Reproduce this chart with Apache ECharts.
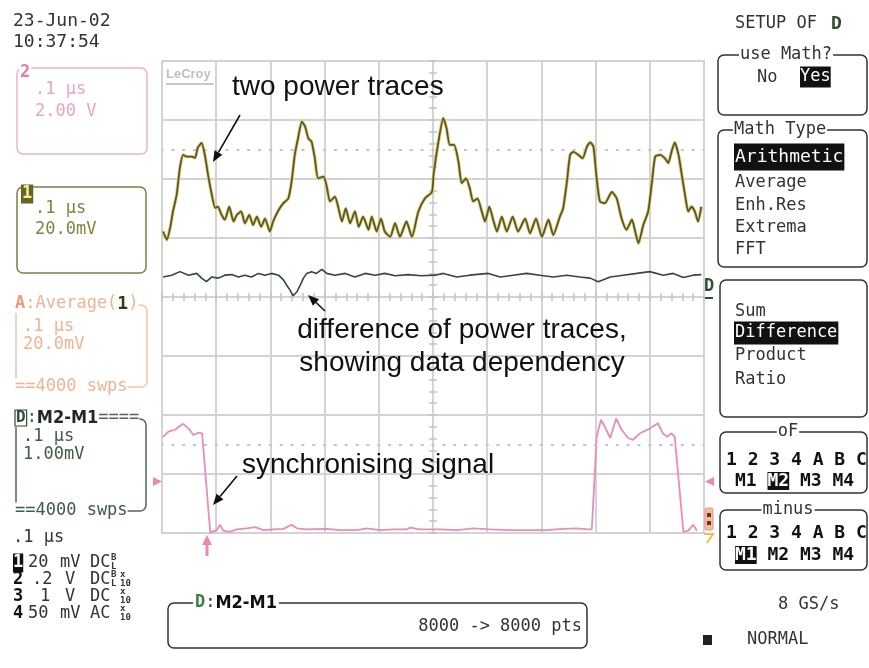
<!DOCTYPE html>
<html>
<head>
<meta charset="utf-8">
<script src="https://cdn.jsdelivr.net/npm/echarts@6/dist/echarts.min.js"></script>
<style>
  html, body { margin: 0; padding: 0; background: #fff; }
  #scope { width: 869px; height: 668px; }
</style>
</head>
<body>
<div id="scope"></div>
<script>
// Time in ns (0.1 µs/div over 10 divisions), amplitude in screen divisions (8 div, 0 = centre).

// M1 / M2 averaged power traces (they overlay each other)
const powerTrace = [
  [2,1.11],[9,0.97],[15,1.17],[20,1.44],[27,1.73],[33,2.19],[39,2.41],[46,2.38],[55,2.38],[61,2.36],
  [66,2.53],[73,2.61],[79,2.41],[85,2.07],[92,1.73],[98,1.51],[103,1.53],[110,1.39],[116,1.31],[124,1.53],
  [132,1.28],[138,1.39],[146,1.45],[153,1.25],[161,1.39],[168,1.22],[175,1.36],[183,1.19],[190,1.33],[199,1.11],
  [205,1.28],[215,1.47],[224,1.59],[233,1.67],[239,1.95],[245,2.41],[251,2.69],[258,2.97],[264,2.89],[270,2.69],
  [276,2.63],[282,2.35],[288,2.01],[298,2.04],[304,1.87],[310,1.62],[319,1.70],[325,1.53],[332,1.28],[339,1.50],
  [347,1.25],[356,1.45],[363,1.19],[371,1.36],[381,1.14],[387,1.36],[396,1.11],[404,1.33],[411,1.11],[421,1.02],
  [430,1.25],[439,1.02],[451,1.28],[461,1.02],[473,1.45],[485,1.67],[498,1.78],[501,2.07],[510,2.63],[519,3.03],
  [525,2.86],[531,2.58],[539,2.58],[547,2.29],[553,1.93],[561,2.01],[568,1.84],[574,1.62],[582,1.67],[590,1.45],
  [596,1.28],[604,1.53],[611,1.31],[618,1.11],[627,1.36],[636,1.11],[647,1.36],[657,1.11],[670,1.33],[679,1.08],
  [690,1.33],[701,1.02],[713,1.31],[722,1.05],[734,1.36],[740,1.50],[747,1.95],[753,2.41],[759,2.46],[768,2.41],
  [776,2.35],[784,2.55],[790,2.62],[796,2.55],[802,2.01],[808,1.62],[817,1.59],[830,1.78],[839,1.67],[848,1.33],
  [857,1.14],[867,1.31],[873,1.11],[879,0.91],[888,1.22],[897,1.45],[904,1.95],[910,2.38],[919,2.41],[928,2.35],
  [934,2.27],[940,2.46],[946,2.62],[953,2.41],[959,2.07],[965,1.73],[971,1.45],[977,1.53],[983,1.45],[989,1.28],
  [995,1.53]
];

// D = M2 - M1
const differenceTrace = [
  [2,0.34],[18,0.37],[33,0.43],[49,0.37],[64,0.40],[73,0.32],[82,0.26],[92,0.34],[104,0.32],[116,0.37],
  [129,0.38],[141,0.34],[153,0.37],[165,0.34],[178,0.40],[190,0.37],[202,0.40],[215,0.37],[224,0.29],[230,0.20],
  [236,0.12],[242,0.02],[249,0.09],[255,0.20],[261,0.32],[267,0.40],[276,0.43],[285,0.40],[295,0.47],[304,0.40],
  [319,0.37],[338,0.40],[356,0.34],[375,0.40],[393,0.37],[411,0.40],[430,0.36],[454,0.38],[479,0.36],[504,0.37],
  [519,0.40],[544,0.34],[568,0.37],[602,0.40],[624,0.34],[648,0.37],[673,0.40],[697,0.37],[722,0.34],[747,0.37],
  [771,0.34],[790,0.32],[805,0.26],[827,0.34],[851,0.37],[876,0.40],[900,0.43],[925,0.37],[943,0.40],[962,0.33],
  [980,0.37],[995,0.38]
];

// Channel 2: synchronising signal
const syncTrace = [
  [2,-2.37],[12,-2.28],[24,-2.25],[39,-2.15],[49,-2.23],[58,-2.34],[67,-2.30],[74,-2.31],[89,-3.99],[101,-3.95],
  [107,-3.86],[113,-3.96],[125,-3.98],[138,-3.94],[156,-3.92],[172,-3.90],[187,-3.95],[205,-3.94],[224,-3.93],[239,-3.86],
  [249,-3.92],[267,-3.94],[304,-3.93],[328,-3.95],[359,-3.95],[378,-3.92],[402,-3.95],[427,-3.94],[451,-3.94],[458,-3.91],
  [476,-3.94],[501,-3.94],[513,-3.94],[544,-3.95],[574,-3.92],[605,-3.94],[642,-3.95],[679,-3.95],[710,-3.95],[740,-3.93],
  [765,-3.92],[787,-3.94],[793,-3.94],[802,-2.37],[810,-2.08],[817,-2.20],[827,-2.39],[838,-2.06],[848,-2.25],[860,-2.39],
  [869,-2.42],[882,-2.31],[900,-2.23],[915,-2.14],[924,-2.31],[932,-2.37],[940,-2.31],[946,-2.37],[962,-3.98],[971,-3.96],
  [980,-3.86],[987,-3.96]
];

// dotted reference levels (div)
const referenceLevels = [2.5, -2.5];

const GRID = '#d3d3d3';
const MONO = '"DejaVu Sans Mono", "Liberation Mono", monospace';
const SANS = '"Liberation Sans", Arial, sans-serif';

function txt(x, y, s, st) {
  return { type: 'text', x: x, y: y, z: 20, silent: true,
    style: Object.assign({ text: s, fontFamily: MONO, fontSize: 17, fill: '#333',
      align: 'left', verticalAlign: 'middle' }, st || {}) };
}
function box(x, y, w, h, stroke, lw) {
  return { type: 'rect', z: 10, silent: true, shape: { x: x, y: y, width: w, height: h, r: 6 },
    style: { fill: 'none', stroke: stroke, lineWidth: lw || 1.5 } };
}
function arrow(x1, y1, x2, y2) {
  const a = Math.atan2(y2 - y1, x2 - x1), L = 11, W = 4.5;
  const bx = x2 - L * Math.cos(a), by = y2 - L * Math.sin(a);
  return [
    { type: 'line', z: 30, silent: true, shape: { x1: x1, y1: y1, x2: bx, y2: by },
      style: { stroke: '#111', lineWidth: 1.6 } },
    { type: 'polygon', z: 30, silent: true, shape: { points: [[x2, y2],
      [bx + W * Math.sin(a), by - W * Math.cos(a)], [bx - W * Math.sin(a), by + W * Math.cos(a)]] },
      style: { fill: '#111' } }
  ];
}
function stacked(x, y, top, bottom, color) {
  return [txt(x, y - 5, top, { fontSize: 9, fill: color || '#333', fontWeight: 'bold' }),
          txt(x, y + 4, bottom, { fontSize: 9, fill: color || '#333', fontWeight: 'bold' })];
}

const chart = echarts.init(document.getElementById('scope'));

const centreAxisBase = {
  type: 'value', axisLabel: { show: false },
  axisLine: { show: true, onZero: true, lineStyle: { color: GRID, width: 2 } },
  axisTick: { show: true, inside: true, length: 4, lineStyle: { color: '#c4c4c4', width: 1.5 } },
  minorTick: { show: true, splitNumber: 5, length: 4, lineStyle: { color: '#c4c4c4', width: 1.5 } },
  minorSplitLine: { show: false }
};

const elements = [
  // date / time
  txt(13, 21, '23-Jun-02', { fontSize: 18 }), txt(13, 42, '10:37:54', { fontSize: 18 }),

  // channel 2 descriptor
  box(17, 68, 130, 86, '#eeb2c8'),
  txt(19, 73, '2', { fill: '#e27fa9', fontWeight: 'bold', backgroundColor: '#fff', padding: [0, 1] }),
  txt(35, 90, '.1 µs', { fill: '#eaa4c2' }), txt(35, 112, '2.00 V', { fill: '#eaa4c2' }),

  // channel 1 descriptor
  box(17, 187, 129, 86, '#807e42'),
  txt(21, 194, '1', { fill: '#f2eda6', fontWeight: 'bold', backgroundColor: '#66641f', padding: [1, 1] }),
  txt(35, 209, '.1 µs', { fill: '#84823e' }), txt(35, 230, '20.0mV', { fill: '#84823e' }),

  // math A descriptor
  box(16, 305, 131, 82, '#f3c3ab'),
  { type: 'text', x: 15, y: 304, z: 20, silent: true, style: {
      text: '{a|A}{b|:Average(}{c|1}{b|)}', verticalAlign: 'middle', backgroundColor: '#fff',
      rich: { a: { fontFamily: MONO, fontSize: 17, fontWeight: 'bold', fill: '#ec9a7a' },
              b: { fontFamily: MONO, fontSize: 17, fill: '#f0b392' },
              c: { fontFamily: MONO, fontSize: 18, fontWeight: 'bold', fill: '#3c3a0c' } } } },
  txt(23, 327, '.1 µs', { fill: '#f0b392' }), txt(23, 345, '20.0mV', { fill: '#f0b392' }),
  txt(15, 387, '==4000 swps', { fill: '#f0b392', backgroundColor: '#fff' }),

  // math D descriptor
  box(16, 419, 130, 92, '#4d6b51'),
  { type: 'text', x: 15, y: 418, z: 20, silent: true, style: {
      text: '{d|D}{b|:}{m|M2-M1}{e|====}', verticalAlign: 'middle', backgroundColor: '#fff',
      rich: { d: { fontFamily: MONO, fontSize: 16, fontWeight: 'bold', fill: '#2e4d33',
                   borderColor: '#2e4d33', borderWidth: 1.2, padding: [0, 1] },
              b: { fontFamily: MONO, fontSize: 17, fill: '#3e5c43' },
              m: { fontFamily: '"DejaVu Sans Condensed", "DejaVu Sans", sans-serif', fontSize: 18, fontWeight: 'bold', fill: '#1d2a1f' },
              e: { fontFamily: MONO, fontSize: 17, fill: '#4d6b51' } } } },
  txt(23, 437, '.1 µs', { fill: '#3e5c43' }), txt(23, 455, '1.00mV', { fill: '#3e5c43' }),
  txt(15, 511, '==4000 swps', { fill: '#3e5c43', backgroundColor: '#fff' }),

  // timebase and channel settings
  txt(13, 538, '.1 µs'),
  txt(13, 563, '1', { fill: '#fff', backgroundColor: '#111', fontWeight: 'bold', padding: [1, 0] }),
  txt(28, 563, '20'), txt(60, 563, 'mV'), txt(90, 563, 'DC'),
  ...stacked(111, 563, 'B', 'L'),
  txt(13, 580, '2', { fontWeight: 'bold', fill: '#111' }),
  txt(32, 580, '.2'), txt(65, 580, 'V'), txt(90, 580, 'DC'),
  ...stacked(111, 580, 'B', 'L'), ...stacked(120, 580, 'x', '10'),
  txt(13, 597, '3', { fontWeight: 'bold', fill: '#111' }),
  txt(40, 597, '1'), txt(65, 597, 'V'), txt(90, 597, 'DC'),
  ...stacked(120, 597, 'x', '10'),
  txt(13, 614, '4', { fontWeight: 'bold', fill: '#111' }),
  txt(28, 614, '50'), txt(60, 614, 'mV'), txt(90, 614, 'AC'),
  ...stacked(120, 614, 'x', '10'),

  // right-hand setup menu
  txt(735, 24, 'SETUP OF'),
  txt(831, 24, 'D', { fontWeight: 'bold', fill: '#2d4f32', fontSize: 18 }),

  box(718, 55, 149, 60, '#333'),
  txt(786, 55, 'use Math?', { align: 'center', backgroundColor: '#fff', padding: [0, 1] }),
  txt(757, 78, 'No'),
  txt(800, 77, 'Yes', { fill: '#fff', backgroundColor: '#111', padding: [2, 0] }),

  box(718, 130, 149, 137, '#333'),
  txt(733, 130, 'Math Type', { backgroundColor: '#fff', padding: [0, 1] }),
  txt(734, 157, 'Arithmetic', { fill: '#fff', backgroundColor: '#111', padding: [5, 1, 4, 1], fontSize: 18 }),
  txt(735, 183, 'Average'), txt(735, 206, 'Enh.Res'), txt(735, 228, 'Extrema'), txt(735, 250, 'FFT'),

  box(720, 280, 147, 137, '#333'),
  txt(735, 312, 'Sum'),
  txt(734, 333, 'Difference', { fill: '#fff', backgroundColor: '#111', padding: [3, 1] }),
  txt(735, 356, 'Product'), txt(735, 380, 'Ratio'),

  box(720, 432, 147, 61, '#333'),
  txt(788, 432, 'oF', { align: 'center', backgroundColor: '#fff', padding: [0, 1] }),
  txt(726, 460, '1 2 3 4 A B C', { fontWeight: 'bold', fontSize: 18, fill: '#111' }),
  { type: 'text', x: 735, y: 481, z: 20, silent: true, style: {
      text: '{n|M1 }{h|M2}{n| M3 M4}', verticalAlign: 'middle',
      rich: { n: { fontFamily: MONO, fontSize: 18, fontWeight: 'bold', fill: '#111' },
              h: { fontFamily: MONO, fontSize: 18, fontWeight: 'bold', fill: '#fff', backgroundColor: '#111' } } } },

  box(720, 510, 147, 60, '#333'),
  txt(788, 510, 'minus', { align: 'center', backgroundColor: '#fff', padding: [0, 1] }),
  txt(726, 533, '1 2 3 4 A B C', { fontWeight: 'bold', fontSize: 18, fill: '#111' }),
  { type: 'text', x: 735, y: 555, z: 20, silent: true, style: {
      text: '{h|M1}{n| M2 M3 M4}', verticalAlign: 'middle',
      rich: { n: { fontFamily: MONO, fontSize: 18, fontWeight: 'bold', fill: '#111' },
              h: { fontFamily: MONO, fontSize: 18, fontWeight: 'bold', fill: '#fff', backgroundColor: '#111' } } } },

  txt(778, 605, '8 GS/s'),
  { type: 'rect', z: 20, silent: true, shape: { x: 703, y: 635, width: 9, height: 10 }, style: { fill: '#222' } },
  txt(747, 640, 'NORMAL'),

  // math trace info panel
  box(168, 603, 419, 45, '#333'),
  { type: 'text', x: 193, y: 603, z: 20, silent: true, style: {
      text: '{d|D}{b|:}{m|M2-M1}', verticalAlign: 'middle', backgroundColor: '#fff', padding: [0, 2],
      rich: { d: { fontFamily: MONO, fontSize: 17, fontWeight: 'bold', fill: '#3c7a3e' },
              b: { fontFamily: MONO, fontSize: 17, fill: '#333' },
              m: { fontFamily: '"DejaVu Sans Condensed", "DejaVu Sans", sans-serif', fontSize: 18, fontWeight: 'bold', fill: '#111' } } } },
  txt(582, 627, '8000 -> 8000 pts', { align: 'right' }),

  // trace markers at the graticule edges
  { type: 'polygon', z: 20, silent: true, shape: { points: [[153, 477], [162, 481.5], [153, 486]] }, style: { fill: '#e98ab4' } },
  { type: 'polygon', z: 20, silent: true, shape: { points: [[714, 477], [705, 481.5], [714, 486]] }, style: { fill: '#e98ab4' } },
  { type: 'polygon', z: 20, silent: true, shape: { points: [[202, 545], [207, 535], [212, 545]] }, style: { fill: '#e98ab4' } },
  { type: 'line', z: 20, silent: true, shape: { x1: 207, y1: 544, x2: 207, y2: 556 }, style: { stroke: '#e98ab4', lineWidth: 3 } },
  txt(709, 287, 'D', { align: 'center', fontWeight: 'bold', fill: '#2e4d33', fontSize: 17 }),
  { type: 'line', z: 20, silent: true, shape: { x1: 705, y1: 298, x2: 713, y2: 298 }, style: { stroke: '#2e4d33', lineWidth: 2 } },
  { type: 'rect', z: 20, silent: true, shape: { x: 705, y: 508, width: 8, height: 22, r: 2 }, style: { fill: '#f4bf93', stroke: '#e98ab4', lineWidth: 1 } },
  { type: 'rect', z: 21, silent: true, shape: { x: 707, y: 513, width: 4, height: 4 }, style: { fill: '#5a3a20' } },
  { type: 'rect', z: 21, silent: true, shape: { x: 707, y: 521, width: 4, height: 4 }, style: { fill: '#5a3a20' } },
  { type: 'polyline', z: 20, silent: true, shape: { points: [[704, 534], [713, 534], [707, 543]] }, style: { stroke: '#ecc04a', lineWidth: 2, fill: 'none' } },

  // LeCroy badge
  txt(166, 74, 'LeCroy', { fontFamily: SANS, fontSize: 13, fontWeight: 'bold', fill: '#c0c0c0' }),
  { type: 'line', z: 20, silent: true, shape: { x1: 166, y1: 84, x2: 214, y2: 84 }, style: { stroke: '#c8c8c8', lineWidth: 2 } },

  // annotations
  txt(232, 87, 'two power traces', { fontFamily: SANS, fontSize: 28, fill: '#111' }),
  txt(462, 330, 'difference of power traces,', { fontFamily: SANS, fontSize: 28, fill: '#111', align: 'center' }),
  txt(462, 363, 'showing data dependency', { fontFamily: SANS, fontSize: 28, fill: '#111', align: 'center' }),
  txt(242, 465, 'synchronising signal', { fontFamily: SANS, fontSize: 28, fill: '#111' }),
  ...arrow(240, 115, 213, 162),
  ...arrow(325, 311, 308, 295),
  ...arrow(237, 476, 213, 505)
];

chart.setOption({
  animation: false,
  backgroundColor: '#fff',
  grid: { left: 162, top: 61, width: 542, height: 472, show: true, borderColor: GRID, borderWidth: 2,
          backgroundColor: 'transparent', outerBoundsMode: 'none' },
  xAxis: [
    Object.assign({}, centreAxisBase, { min: 0, max: 1000, interval: 100, position: 'bottom',
      axisLine: Object.assign({}, centreAxisBase.axisLine, { onZeroAxisIndex: 0 }),
      splitLine: { show: true, lineStyle: { color: GRID, width: 2 } } }),
    Object.assign({}, centreAxisBase, { min: -500, max: 500, interval: 100, position: 'top',
      axisLine: Object.assign({}, centreAxisBase.axisLine, { onZeroAxisIndex: 0 }),
      splitLine: { show: false } })
  ],
  yAxis: [
    Object.assign({}, centreAxisBase, { min: -4, max: 4, interval: 1, position: 'left',
      axisLine: Object.assign({}, centreAxisBase.axisLine, { onZeroAxisIndex: 1 }),
      splitLine: { show: true, lineStyle: { color: GRID, width: 2 } } }),
    Object.assign({}, centreAxisBase, { min: -4, max: 4, interval: 1, position: 'right',
      axisLine: Object.assign({}, centreAxisBase.axisLine, { onZeroAxisIndex: 1 }),
      splitLine: { show: false } })
  ],
  series: [
    { name: 'sync', type: 'line', data: syncTrace, showSymbol: false, z: 3,
      lineStyle: { color: '#ea8cb5', width: 1.8 },
      markLine: { silent: true, symbol: 'none', label: { show: false },
        lineStyle: { color: '#c4c4c4', width: 2, type: [3, 7.84], dashOffset: 1.5 },
        data: referenceLevels.map(v => ({ yAxis: v })) } },
    { name: 'M1', type: 'line', data: powerTrace, showSymbol: false, z: 4, smooth: 0.2,
      lineStyle: { color: '#ddd07a', width: 3.4 } },
    { name: 'M2', type: 'line', data: powerTrace, showSymbol: false, z: 5, smooth: 0.2,
      lineStyle: { color: '#5c5626', width: 1.8 } },
    { name: 'M2-M1', type: 'line', data: differenceTrace, showSymbol: false, z: 5,
      lineStyle: { color: '#2f4a35', width: 1.6 } }
  ],
  graphic: { elements: elements }
});
</script>
</body>
</html>
